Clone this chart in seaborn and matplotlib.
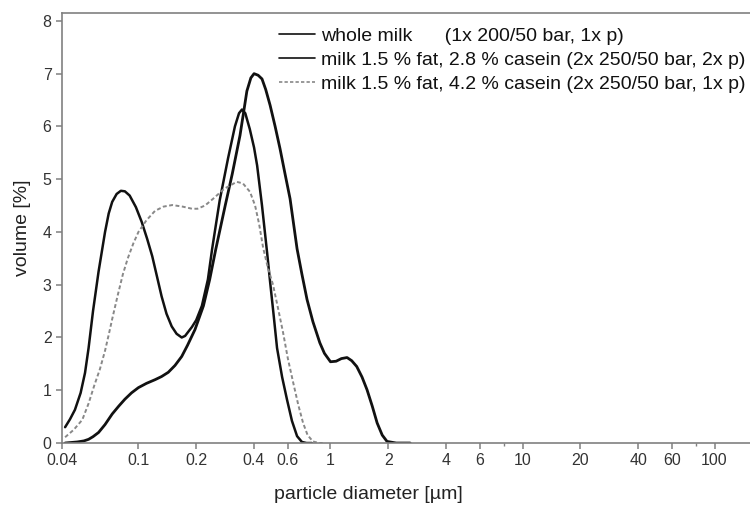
import pandas as pd
import seaborn as sns
import matplotlib.pyplot as plt
from matplotlib.ticker import FixedLocator, NullFormatter, NullLocator

# particle size distributions (x in µm, y in volume %)
x_whole = [0.0415, 0.044, 0.0467, 0.050, 0.0527, 0.055, 0.058, 0.062, 0.067, 0.070,
           0.073, 0.077, 0.081, 0.085, 0.090, 0.097, 0.104, 0.111, 0.118, 0.125,
           0.132, 0.140, 0.149, 0.158, 0.168, 0.175, 0.181, 0.19, 0.20, 0.214,
           0.23, 0.242, 0.265, 0.293, 0.318, 0.334, 0.346, 0.36, 0.38, 0.40,
           0.415, 0.44, 0.468, 0.485, 0.505, 0.527, 0.56, 0.594, 0.63, 0.67,
           0.71, 0.75, 0.8]
y_whole = [0.30, 0.45, 0.63, 0.95, 1.33, 1.80, 2.50, 3.25, 4.00, 4.35,
           4.57, 4.72, 4.78, 4.77, 4.69, 4.47, 4.19, 3.87, 3.54, 3.15,
           2.78, 2.45, 2.21, 2.07, 2.00, 2.03, 2.10, 2.20, 2.33, 2.60,
           3.10, 3.68, 4.60, 5.40, 6.00, 6.25, 6.32, 6.25, 5.95, 5.60,
           5.26, 4.50, 3.60, 3.05, 2.45, 1.80, 1.25, 0.82, 0.42, 0.13,
           0.02, 0.0, 0.0]

x_c28 = [0.0415, 0.048, 0.052, 0.055, 0.058, 0.062, 0.067, 0.073, 0.079, 0.085,
         0.092, 0.1, 0.11, 0.122, 0.132, 0.143, 0.155, 0.168, 0.18, 0.197,
         0.218, 0.235, 0.253, 0.283, 0.308, 0.338, 0.354, 0.367, 0.385, 0.40,
         0.42, 0.44, 0.46, 0.485, 0.515, 0.546, 0.58, 0.616, 0.67, 0.71,
         0.755, 0.81, 0.88, 0.93, 1.0, 1.07, 1.14, 1.22, 1.29, 1.37,
         1.46, 1.55, 1.65, 1.75, 1.86, 1.97, 2.2, 2.6]
y_c28 = [0.0, 0.02, 0.04, 0.07, 0.12, 0.20, 0.35, 0.55, 0.70, 0.83,
         0.95, 1.05, 1.13, 1.20, 1.26, 1.34, 1.47, 1.64, 1.85, 2.15,
         2.60, 3.10, 3.68, 4.50, 5.10, 5.83, 6.30, 6.67, 6.92, 7.00,
         6.97, 6.90, 6.70, 6.40, 6.00, 5.58, 5.10, 4.63, 3.68, 3.20,
         2.72, 2.30, 1.90, 1.70, 1.54, 1.55, 1.60, 1.62, 1.56, 1.45,
         1.25, 1.01, 0.70, 0.38, 0.15, 0.03, 0.0, 0.0]

x_c42 = [0.0415, 0.046, 0.051, 0.055, 0.059, 0.063, 0.067, 0.070, 0.073, 0.078,
         0.083, 0.088, 0.094, 0.1, 0.11, 0.122, 0.135, 0.150, 0.17, 0.19,
         0.203, 0.222, 0.245, 0.28, 0.325, 0.35, 0.381, 0.405, 0.425, 0.446,
         0.47, 0.502, 0.53, 0.566, 0.60, 0.64, 0.68, 0.72, 0.76, 0.81,
         0.87, 0.91]
y_c42 = [0.11, 0.25, 0.44, 0.75, 1.10, 1.40, 1.75, 2.05, 2.35, 2.80,
         3.20, 3.50, 3.78, 4.00, 4.22, 4.40, 4.48, 4.51, 4.48, 4.44,
         4.44, 4.50, 4.63, 4.82, 4.95, 4.92, 4.76, 4.50, 4.15, 3.70,
         3.35, 3.00, 2.60, 2.10, 1.60, 1.14, 0.72, 0.38, 0.15, 0.03,
         0.0, 0.0]

labels = ["whole milk      (1x 200/50 bar, 1x p)",
          "milk 1.5 % fat, 2.8 % casein (2x 250/50 bar, 2x p)",
          "milk 1.5 % fat, 4.2 % casein (2x 250/50 bar, 1x p)"]

x_ticks = [0.04, 0.1, 0.2, 0.4, 0.6, 1, 2, 4, 6, 10, 20, 40, 60, 100]
x_ticklabels = ["0.04", "0.1", "0.2", "0.4", "0.6", "1", "2", "4", "6", "10", "20", "40", "60", "100"]
y_ticks = [0, 1, 2, 3, 4, 5, 6, 7, 8]

sns.set_style("ticks")
plt.rcParams['font.family'] = ['Liberation Sans', 'DejaVu Sans']

fig = plt.figure(figsize=(7.5, 5.07), dpi=100)
ax = fig.add_axes([0.0827, 0.1262, 0.9173, 0.8482])

df_w = pd.DataFrame({"d": x_whole, "v": y_whole})
df_a = pd.DataFrame({"d": x_c28, "v": y_c28})
df_b = pd.DataFrame({"d": x_c42, "v": y_c42})

sns.lineplot(data=df_w, x="d", y="v", ax=ax, color="#111111", lw=1.8, sort=False,
             estimator=None, label=labels[0])
sns.lineplot(data=df_a, x="d", y="v", ax=ax, color="#111111", lw=2.0, sort=False,
             estimator=None, label=labels[1])
sns.lineplot(data=df_b, x="d", y="v", ax=ax, color="#888888", lw=1.4, sort=False,
             estimator=None, label=labels[2], linestyle=(0, (2, 1.3)))

ax.set_xscale("log")
ax.set_xlim(0.04, 153)
ax.set_ylim(0, 8.15)
ax.xaxis.set_major_locator(FixedLocator(x_ticks))
ax.set_xticklabels(x_ticklabels)
ax.xaxis.set_minor_locator(FixedLocator([8, 80]))
ax.xaxis.set_minor_formatter(NullFormatter())
ax.set_yticks(y_ticks)
ax.yaxis.set_minor_locator(NullLocator())

for s in ["left", "bottom", "top"]:
    ax.spines[s].set_color("#808080")
    ax.spines[s].set_linewidth(1.2)
ax.spines["right"].set_visible(False)
ax.tick_params(axis="both", which="major", length=4, width=1.1, color="#808080",
               labelsize=11.5, labelcolor="#333333")
ax.tick_params(axis="x", which="minor", length=2, width=1, color="#808080")

ax.set_xlabel("")
ax.set_ylabel("volume [%]", fontsize=14, color="#222222", labelpad=8)
fig.text(0.491, 0.024, "particle diameter [\u00b5m]", ha="center", va="center",
         fontsize=14, color="#222222")

leg = ax.legend(loc="upper right", frameon=False, fontsize=14, handlelength=1.85,
                handletextpad=0.3, labelspacing=0.33, borderaxespad=0.1,
                bbox_to_anchor=(1.008, 0.99))
for t in leg.get_texts():
    t.set_color("#111111")
for ln in leg.get_lines():
    ln.set_linewidth(1.2)

fig.savefig("out.png", dpi=100)
